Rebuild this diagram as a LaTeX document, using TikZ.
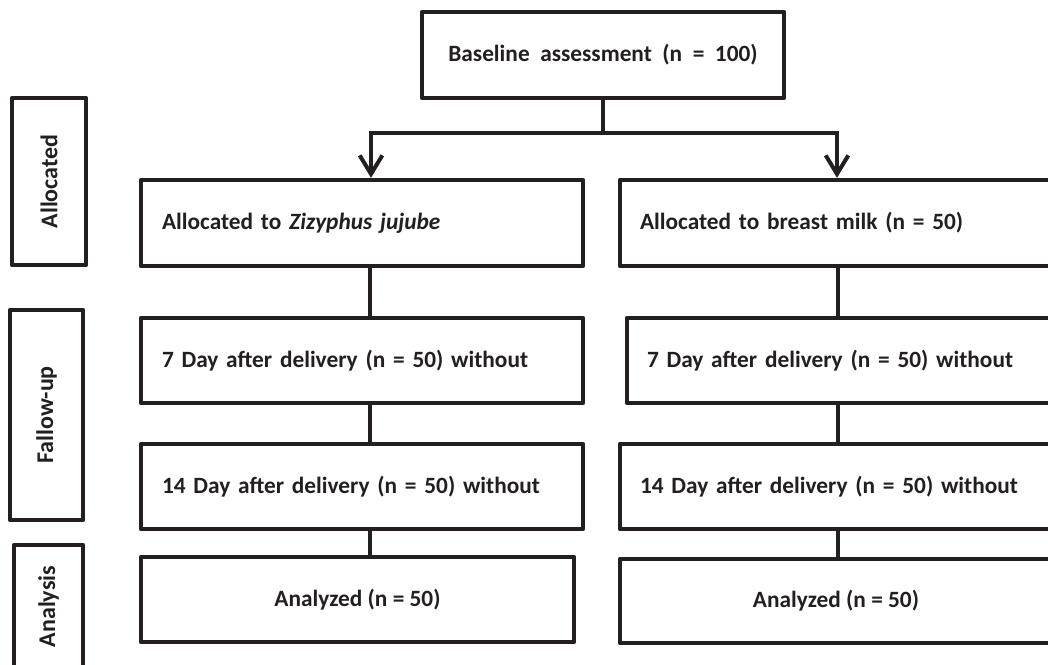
\documentclass[tikz,border=0pt]{standalone}
\usepackage{fontspec}
\setmainfont{Carlito}
\usetikzlibrary{arrows.meta,calc}
\definecolor{ink}{RGB}{35,31,32}
\begin{document}
\begin{tikzpicture}[x=0.75pt,y=-0.75pt,
  box/.style={draw=ink, line width=3.2pt, line join=round, rectangle, inner sep=0pt,
    font=\bfseries\fontsize{17.5}{21}\selectfont, text=ink},
  lbox/.style={box, align=left},
  lab/.style={box, rotate=90, font=\bfseries\fontsize{18}{21}\selectfont},
  conn/.style={draw=ink, line width=3pt},
  arr/.style={conn, -{Straight Barb[length=14pt,width=17pt]}}]
\path[use as bounding box, clip] (0,0) rectangle (1048,664);
\fill[white] (0,0) rectangle (1048,664);

% top box
\node[box, minimum width=271.5pt, minimum height=64.5pt] (base) at (603,55)
  {Baseline\ \ assessment\ \ (n\ \ =\ \ 100)};

% left column
\node[lbox, minimum height=64.5pt, text width=300pt, inner xsep=15.75pt] (alloL) at (362,223)
  {Allocated to \textit{Zizyphus jujube}};
\node[lbox, minimum height=63.75pt, text width=300pt, inner xsep=15.75pt] (d7L) at (362,360.5)
  {7 Day after delivery (n = 50) without};
\node[lbox, minimum height=63.75pt, text width=300pt, inner xsep=15.75pt] (d14L) at (362,486.5)
  {14 Day after delivery (n = 50) without};
\node[box, minimum width=324.75pt, minimum height=63.75pt] (anL) at (357.5,599.5)
  {Analyzed (n = 50)};

% right column
\node[lbox, minimum height=64.5pt, text width=294pt, inner xsep=15pt] (alloR) at (836,223)
  {Allocated to breast milk (n = 50)};
\node[lbox, minimum height=63.75pt, text width=288.75pt, inner xsep=15pt] (d7R) at (839.5,360.5)
  {7 Day after delivery (n = 50) without};
\node[lbox, minimum height=63.75pt, text width=294pt, inner xsep=15pt] (d14R) at (836,486.5)
  {14 Day after delivery (n = 50) without};
\node[box, minimum width=324pt, minimum height=63pt] (anR) at (836,601)
  {Analyzed (n = 50)};

% stage labels
\node[lab, minimum width=125.25pt, minimum height=55.5pt] (labA) at (49,181.5) {Allocated};
\node[lab, minimum width=157.5pt, minimum height=54.75pt] (labF) at (46.5,415) {Fallow-up};
\node[lab, minimum width=92.25pt, minimum height=51.75pt] (labN) at (48.5,606.5) {Analysis};

% connectors
\coordinate (split) at (603,133);
\coordinate (colL) at (370,0);
\coordinate (colR) at (838,0);
\draw[conn] (base.south) -- (split);
\draw[arr] (split) -| ($(alloL.north)+(9,0)$);
\draw[arr] (split) -| ($(alloR.north)+(1,0)$);
\draw[conn] (alloL.south -| colL) -- (d7L.north -| colL);
\draw[conn] (d7L.south -| colL) -- (d14L.north -| colL);
\draw[conn] (d14L.south -| colL) -- (anL.north -| colL);
\draw[conn] (alloR.south -| colR) -- (d7R.north -| colR);
\draw[conn] (d7R.south -| colR) -- (d14R.north -| colR);
\draw[conn] (d14R.south -| colR) -- (anR.north -| colR);
\end{tikzpicture}
\end{document}
